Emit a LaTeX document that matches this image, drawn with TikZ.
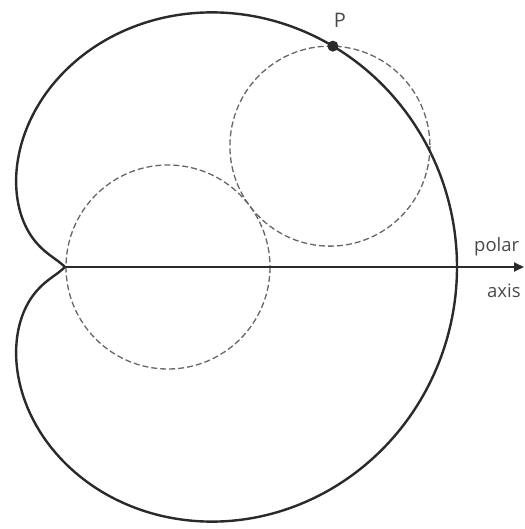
\documentclass[tikz,border=0pt]{standalone}
\usepackage{fontspec}
\setmainfont{Open Sans}
\usetikzlibrary{arrows.meta,calc}
\definecolor{ink}{HTML}{2A2A2A}
\definecolor{txt}{HTML}{4A4A4A}
\definecolor{dash}{HTML}{666666}
\tikzset{
  curve/.style={draw=ink, line width=2.4pt, line join=miter},
  axisline/.style={draw=ink, line width=1.9pt, -{Triangle[length=10pt,width=9pt]}},
  guide/.style={draw=dash, line width=1.3pt, dash pattern=on 6pt off 3pt},
  lbl/.style={text=txt, font=\fontsize{18.5}{20}\selectfont, inner sep=0pt},
}
\begin{document}
\begin{tikzpicture}[x=1pt,y=-1pt]
\useasboundingbox (0,0) rectangle (524,529);
\def\a{98}
% cusp and key points
\coordinate (cusp) at (65,267);
\coordinate (axisend) at (524,267);
\coordinate (O) at (168,267);
\coordinate (P) at ({65+2*\a*(1+cos(39.5))*cos(39.5)},{267-2*\a*(1+cos(39.5))*sin(39.5)});
\coordinate (C2) at ($(P)+(-3,100)$);
% dashed circles
\draw[guide] (O) circle[radius=102];
\draw[guide] (C2) circle[radius=100];
% cardioid (cusp slightly opened, as drawn)
\draw[curve] plot[domain=-180:180, samples=361, smooth, variable=\u]
  ({65+2*\a*(1+cos(\u))*cos(\u*(1-0.2222*pow((1-cos(\u))/2,20)))},
   {267-2*\a*(1+cos(\u))*sin(\u*(1-0.2222*pow((1-cos(\u))/2,20)))});
% axis
\draw[axisline] (cusp) -- (axisend);
% point P
\fill[ink] (P) circle[radius=5.5];
\node[lbl, font=\fontsize{20}{22}\selectfont] (Plab) at (340,20.5) {P};
\node[lbl, anchor=base west] (polar) at (474,251.5) {polar};
\node[lbl, anchor=base west] (axis) at (487,297) {axis};
\end{tikzpicture}
\end{document}
